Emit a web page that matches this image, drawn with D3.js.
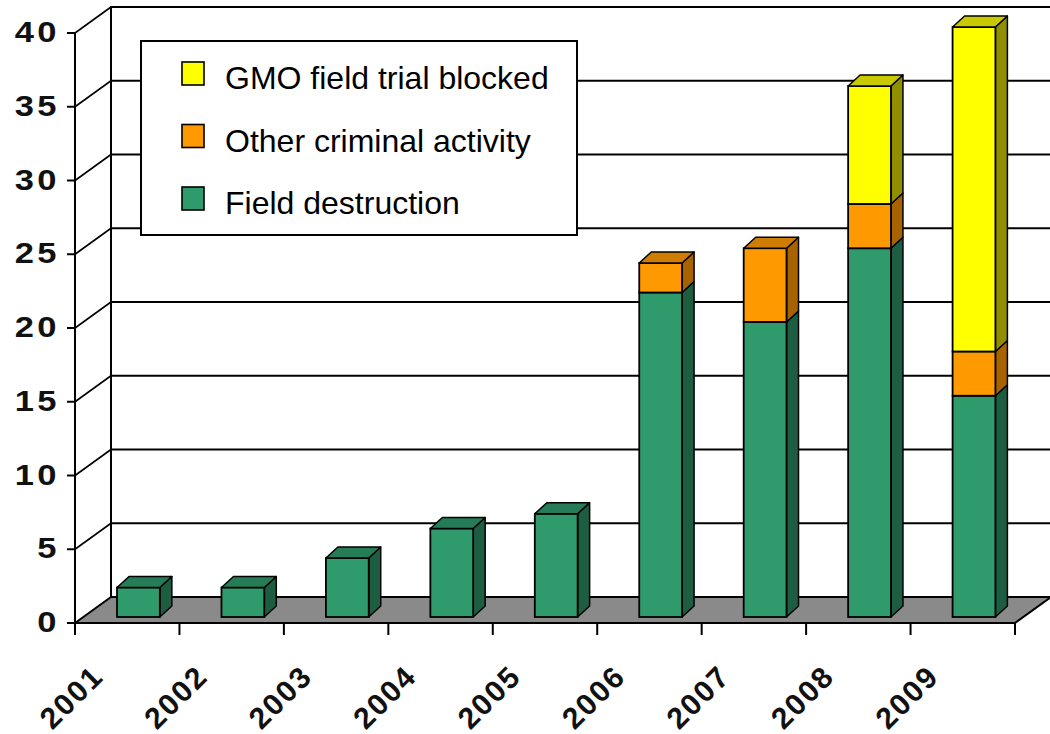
<!DOCTYPE html>
<html>
<head>
<meta charset="utf-8">
<script src="https://cdn.jsdelivr.net/npm/d3@7"></script>
<style>
  html, body { margin: 0; padding: 0; background: #fff; }
  svg { display: block; font-family: "Liberation Sans", Arial, sans-serif; }
</style>
</head>
<body>
<svg id="chart" width="1050" height="734"></svg>
<script>
// Incidents per year, by type
const years = ["2001", "2002", "2003", "2004", "2005", "2006", "2007", "2008", "2009"];
const fieldDestruction = [2, 2, 4, 6, 7, 22, 20, 25, 15];
const otherCriminal    = [0, 0, 0, 0, 0, 2, 5, 3, 3];
const gmoTrialBlocked  = [0, 0, 0, 0, 0, 0, 0, 8, 22];
const yTicks = [0, 5, 10, 15, 20, 25, 30, 35, 40];

const seriesKeys = ["field", "other", "gmo"];
const seriesNames = {
  gmo: "GMO field trial blocked",
  other: "Other criminal activity",
  field: "Field destruction"
};
// front / side / top shades for each series
const palette = {
  field: { front: "#2f9a6c", side: "#1d5e43", top: "#267c56" },
  other: { front: "#ff9900", side: "#a76300", top: "#cf7d00" },
  gmo:   { front: "#ffff00", side: "#8f8f00", top: "#c9c900" }
};

const rows = years.map((yr, i) => ({
  year: yr,
  field: fieldDestruction[i],
  other: otherCriminal[i],
  gmo: gmoTrialBlocked[i]
}));

const svg = d3.select("#chart");

// plot geometry: front plane plus a depth offset for the back wall
const left = 75, right = 1015;
const depth = { dx: 36, dy: -26 };     // floor / wall depth
const barPlane = { dx: 8.5, dy: -6 };  // bars sit slightly back from the front edge
const barDepth = { dx: 12, dy: -11 };  // thickness of each bar

const y = d3.scaleLinear().domain([0, 40]).range([623, 33]);
const xCat = d3.scaleBand().domain(years).range([left, right]).padding(0);
const xBar = d3.scaleBand().domain(years).range([left, right])
  .paddingInner(0.59).paddingOuter(0.295).align(0.544);

const ink = "#000";

// back wall
const backL = left + depth.dx, backR = right + depth.dx;
svg.append("rect")
  .attr("x", backL).attr("y", y(40) + depth.dy)
  .attr("width", backR - backL).attr("height", y(0) - y(40))
  .attr("fill", "#fff").attr("stroke", ink).attr("stroke-width", 2);

// gridlines on back wall and their continuation across the side wall
yTicks.filter(v => v > 0).forEach(v => {
  svg.append("line")
    .attr("x1", backL).attr("x2", backR)
    .attr("y1", y(v) + depth.dy).attr("y2", y(v) + depth.dy)
    .attr("stroke", ink).attr("stroke-width", 2);
  svg.append("line")
    .attr("x1", left).attr("y1", y(v))
    .attr("x2", backL).attr("y2", y(v) + depth.dy)
    .attr("stroke", ink).attr("stroke-width", 1.6);
});

// floor
const floorPts = [
  [left, y(0)], [right, y(0)],
  [right + depth.dx, y(0) + depth.dy], [left + depth.dx, y(0) + depth.dy]
];
svg.append("polygon")
  .attr("points", floorPts.map(p => p.join(",")).join(" "))
  .attr("fill", "#8a8a8a").attr("stroke", ink).attr("stroke-width", 2)
  .attr("stroke-linejoin", "round");

// stacked 3D bars
const stacked = d3.stack().keys(seriesKeys)(rows);
const bw = xBar.bandwidth();
const barsG = svg.append("g");
years.forEach((yr, i) => {
  const x0 = xBar(yr) + barPlane.dx;
  const segs = stacked.map(s => ({ key: s.key, y0: s[i][0], y1: s[i][1] }))
    .filter(s => s.y1 > s.y0);
  const topSeg = segs[segs.length - 1];
  segs.forEach(s => {
    const yt = y(s.y1) + barPlane.dy, yb = y(s.y0) + barPlane.dy;
    const col = palette[s.key];
    // right side face
    barsG.append("polygon")
      .attr("points", [
        [x0 + bw, yt], [x0 + bw + barDepth.dx, yt + barDepth.dy],
        [x0 + bw + barDepth.dx, yb + barDepth.dy], [x0 + bw, yb]
      ].map(p => p.join(",")).join(" "))
      .attr("fill", col.side).attr("stroke", ink).attr("stroke-width", 1.5)
      .attr("stroke-linejoin", "round");
    // front face
    barsG.append("rect")
      .attr("x", x0).attr("y", yt).attr("width", bw).attr("height", yb - yt)
      .attr("fill", col.front).attr("stroke", ink).attr("stroke-width", 1.8);
    if (s === topSeg) {
      barsG.append("polygon")
        .attr("points", [
          [x0, yt], [x0 + barDepth.dx, yt + barDepth.dy],
          [x0 + bw + barDepth.dx, yt + barDepth.dy], [x0 + bw, yt]
        ].map(p => p.join(",")).join(" "))
        .attr("fill", col.top).attr("stroke", ink).attr("stroke-width", 1.5)
        .attr("stroke-linejoin", "round");
    }
  });
});

// value axis (front left)
svg.append("line")
  .attr("x1", left).attr("x2", left).attr("y1", y(40)).attr("y2", y(0) + 12)
  .attr("stroke", ink).attr("stroke-width", 2);
const yAxisG = svg.append("g");
yTicks.forEach(v => {
  yAxisG.append("line")
    .attr("x1", left - 8).attr("x2", left).attr("y1", y(v)).attr("y2", y(v))
    .attr("stroke", ink).attr("stroke-width", 2);
  yAxisG.append("text")
    .attr("transform", `translate(${left - 15},${y(v) + 9}) scale(1.15,1)`)
    .attr("text-anchor", "end")
    .attr("font-size", 30).attr("font-weight", "bold")
    .attr("letter-spacing", 3)
    .attr("fill", "#111")
    .text(v);
});

// category axis (front bottom edge)
svg.append("line")
  .attr("x1", left).attr("x2", right).attr("y1", y(0)).attr("y2", y(0))
  .attr("stroke", ink).attr("stroke-width", 2.2);
years.forEach(yr => {
  const xe = xCat(yr) + xCat.bandwidth();
  svg.append("line")
    .attr("x1", xe).attr("x2", xe).attr("y1", y(0)).attr("y2", y(0) + 12)
    .attr("stroke", ink).attr("stroke-width", 2);
  const cx = xCat(yr) + xCat.bandwidth() / 2 - 22;
  const cy = y(0) + 55;
  svg.append("text")
    .attr("transform", `translate(${cx},${cy}) rotate(-45)`)
    .attr("text-anchor", "end")
    .attr("font-size", 30).attr("font-weight", "bold")
    .attr("letter-spacing", 2)
    .attr("fill", "#111")
    .text(yr);
});

// legend
const legend = svg.append("g");
legend.append("rect")
  .attr("x", 141).attr("y", 41).attr("width", 436).attr("height", 194)
  .attr("fill", "#fff").attr("stroke", ink).attr("stroke-width", 2);
["gmo", "other", "field"].forEach((k, i) => {
  const ly = 62 + i * 62.5;
  legend.append("rect")
    .attr("x", 182).attr("y", ly).attr("width", 22).attr("height", 23)
    .attr("fill", palette[k].front).attr("stroke", ink).attr("stroke-width", 1.6);
  legend.append("text")
    .attr("x", 225).attr("y", ly + 27)
    .attr("font-size", 32)
    .attr("fill", "#000")
    .text(seriesNames[k]);
});
</script>
</body>
</html>
